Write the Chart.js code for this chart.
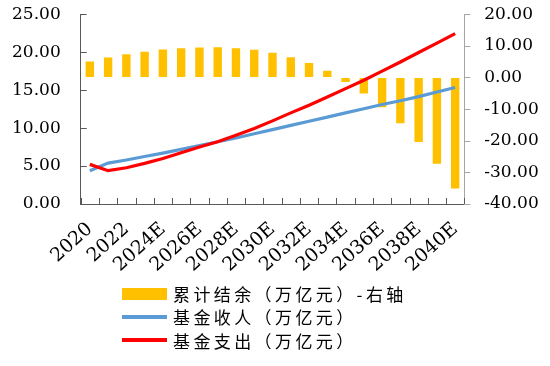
<!DOCTYPE html>
<html>
<head>
<meta charset="utf-8">
<script src="https://cdn.jsdelivr.net/npm/chart.js@4.4.0/dist/chart.umd.min.js"></script>
<style>
  html, body { margin: 0; padding: 0; background: #fff; }
  #wrap { position: relative; width: 550px; height: 366px; overflow: hidden; }
  #legend { position: absolute; left: 122px; top: 282px; }
  .row { display: flex; align-items: center; height: 23.3px; }
  .mark { width: 45px; display: flex; align-items: center; justify-content: center; }
  .txt { margin-left: 6px; font-family: "Noto Sans CJK SC", sans-serif; font-size: 17px; letter-spacing: 3.4px; color: #000; white-space: nowrap; line-height: 23px; }
</style>
</head>
<body>
<div id="wrap">
  <canvas id="c" width="550" height="366"></canvas>
  <div id="legend"></div>
</div>
<script>
const categories = ["2020","2021","2022","2023E","2024E","2025E","2026E","2027E","2028E","2029E","2030E","2031E","2032E","2033E","2034E","2035E","2036E","2037E","2038E","2039E","2040E"];
const balance = [5.05,6.3,7.35,8.1,8.85,9.25,9.45,9.55,9.25,8.75,7.8,6.4,4.6,2.1,-1.4,-5.05,-9.4,-14.5,-20.4,-27.3,-35.1];
const income = [4.39,5.39,5.8,6.25,6.7,7.2,7.7,8.2,8.7,9.25,9.8,10.35,10.9,11.45,12.0,12.55,13.1,13.6,14.15,14.75,15.35];
const expense = [5.22,4.39,4.78,5.35,6.0,6.75,7.5,8.2,9.05,9.95,10.95,12.0,13.0,14.1,15.2,16.3,17.5,18.7,19.95,21.2,22.45];
const seriesNames = ["累计结余（万亿元）-右轴","基金收人（万亿元）","基金支出（万亿元）"];
const leftTicks = [0,5,10,15,20,25];
const rightTicks = [-40,-30,-20,-10,0,10,20];

const tickFont = { family: "DejaVu Serif", size: 17 };
const xFont = { family: "DejaVu Serif", size: 19 };

const axisTicks = {
  id: 'axisTicks',
  afterDraw(chart) {
    const ctx = chart.ctx, a = chart.chartArea;
    const x = chart.scales.x, y = chart.scales.y, y1 = chart.scales.y1;
    ctx.save();
    ctx.lineWidth = 1;
    ctx.strokeStyle = '#595959';
    const step = x.getPixelForValue(1) - x.getPixelForValue(0);
    for (let k = 0; k <= categories.length; k++) {
      const px = Math.round(x.getPixelForValue(k) - step / 2) + 0.5;
      ctx.beginPath(); ctx.moveTo(px, a.bottom); ctx.lineTo(px, a.bottom - 6); ctx.stroke();
    }
    y.ticks.forEach(t => {
      const py = Math.round(y.getPixelForValue(t.value)) + 0.5;
      ctx.beginPath(); ctx.moveTo(a.left, py); ctx.lineTo(a.left + 6, py); ctx.stroke();
    });
    ctx.strokeStyle = '#A6A6A6';
    y1.ticks.forEach(t => {
      const py = Math.round(y1.getPixelForValue(t.value)) + 0.5;
      ctx.beginPath(); ctx.moveTo(a.right, py); ctx.lineTo(a.right + 6, py); ctx.stroke();
    });
    ctx.restore();
  }
};

const hidden = 'rgba(0,0,0,0)';

const chart = new Chart(document.getElementById('c'), {
  data: {
    labels: categories,
    datasets: [
      { type: 'bar', label: seriesNames[0], data: balance, yAxisID: 'y1', backgroundColor: '#FFC000', borderWidth: 0, barPercentage: 0.46, categoryPercentage: 1, order: 2 },
      { type: 'line', label: seriesNames[1], data: income, yAxisID: 'y', borderColor: '#5B9BD5', backgroundColor: '#5B9BD5', borderWidth: 3.2, pointRadius: 0, tension: 0, order: 1 },
      { type: 'line', label: seriesNames[2], data: expense, yAxisID: 'y', borderColor: '#FF0000', backgroundColor: '#FF0000', borderWidth: 3.2, pointRadius: 0, tension: 0, order: 0 }
    ]
  },
  options: {
    responsive: false,
    animation: false,
    layout: { padding: { top: 14, left: 0, right: 0, bottom: 0 } },
    plugins: { legend: { display: false }, tooltip: { enabled: false } },
    scales: {
      x: {
        offset: true,
        grid: { display: false, drawTicks: false },
        border: { display: true, color: '#595959', width: 1 },
        ticks: {
          autoSkip: false, maxRotation: 42, minRotation: 42, padding: 14,
          color: '#000', font: xFont,
          callback: (v, i) => (i % 2 === 0 ? categories[i] : '')
        },
        afterFit: s => { s.height = 162; }
      },
      y: {
        position: 'left', min: 0, max: 25,
        afterBuildTicks: s => { s.ticks = leftTicks.map(v => ({ value: v })); },
        grid: { display: true, drawOnChartArea: false, drawTicks: true, tickLength: 16, color: hidden, tickColor: hidden },
        border: { display: true, color: '#595959', width: 1 },
        ticks: { padding: 4, color: '#000', font: tickFont, callback: v => Number(v).toFixed(2) },
        afterFit: s => { s.width = 80.7; }
      },
      y1: {
        position: 'right', min: -40, max: 20,
        afterBuildTicks: s => { s.ticks = rightTicks.map(v => ({ value: v })); },
        grid: { display: true, drawOnChartArea: false, drawTicks: true, tickLength: 16, color: hidden, tickColor: hidden },
        border: { display: true, color: '#A6A6A6', width: 1 },
        ticks: { padding: 4, color: '#000', font: tickFont, callback: v => Number(v).toFixed(2) },
        afterFit: s => { s.width = 85.7; }
      }
    }
  },
  plugins: [axisTicks]
});

// HTML legend built from the chart's datasets
const leg = document.getElementById('legend');
chart.data.datasets.forEach(ds => {
  const row = document.createElement('div'); row.className = 'row';
  const m = document.createElement('div'); m.className = 'mark';
  const sw = document.createElement('div');
  if (ds.type === 'bar') { sw.style.width = '45px'; sw.style.height = '12px'; sw.style.background = ds.backgroundColor; }
  else { sw.style.width = '45px'; sw.style.height = '3.5px'; sw.style.background = ds.borderColor; }
  m.appendChild(sw);
  const t = document.createElement('div'); t.className = 'txt'; t.textContent = ds.label;
  row.appendChild(m); row.appendChild(t); leg.appendChild(row);
});
</script>
</body>
</html>
